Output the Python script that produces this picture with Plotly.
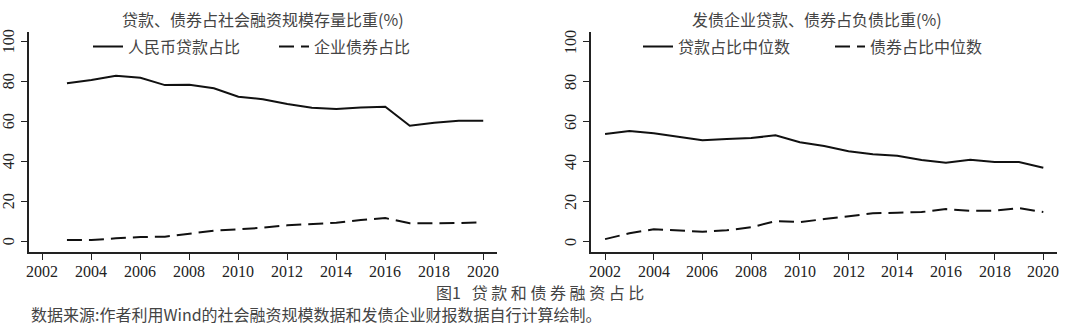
import plotly.graph_objects as go

# Left panel: share of social financing stock (%)
years_left = list(range(2003, 2021))
rmb_loan_share = [79.2, 80.8, 83.0, 82.0, 78.3, 78.5, 76.7, 72.5, 71.2, 68.8,
                  67.0, 66.3, 67.1, 67.5, 58.0, 59.5, 60.5, 60.5]
corp_bond_share = [0.8, 0.8, 1.7, 2.3, 2.5, 4.0, 5.5, 6.2, 7.0, 8.2,
                   8.7, 9.5, 10.8, 11.8, 9.2, 9.2, 9.3, 9.7]

# Right panel: share of liabilities of bond-issuing firms (%)
years_right = list(range(2002, 2021))
loan_median = [53.8, 55.3, 54.2, 52.5, 50.7, 51.3, 51.8, 53.2, 49.7, 47.8,
               45.2, 43.7, 43.0, 40.8, 39.5, 41.0, 39.8, 39.8, 37.0]
bond_median = [1.3, 4.2, 6.2, 5.5, 5.0, 5.7, 7.2, 10.3, 9.8, 11.3,
               12.8, 14.2, 14.5, 14.8, 16.3, 15.5, 15.5, 16.8, 14.8]

x_ticks = list(range(2002, 2021, 2))
y_ticks = [0, 20, 40, 60, 80, 100]

title_left = "贷款、债券占社会融资规模存量比重(%)"
title_right = "发债企业贷款、债券占负债比重(%)"
legend_left = ["人民币贷款占比", "企业债券占比"]
legend_right = ["贷款占比中位数", "债券占比中位数"]
caption = "图1   贷 款 和 债 券 融 资 占 比"
source_note = "数据来源:作者利用Wind的社会融资规模数据和发债企业财报数据自行计算绘制。"

W, H = 1080, 328
CJK = "Noto Sans CJK SC"
SERIF = "Liberation Serif"
LINE_COLOR = "#111111"
TEXT_COLOR = "#444444"
TICK_COLOR = "#222222"
DASH = "15px,7px"

fig = go.Figure()

fig.add_trace(go.Scatter(x=years_left, y=rmb_loan_share, mode="lines",
                         name=legend_left[0], xaxis="x", yaxis="y", legend="legend",
                         line=dict(color=LINE_COLOR, width=2)))
fig.add_trace(go.Scatter(x=years_left, y=corp_bond_share, mode="lines",
                         name=legend_left[1], xaxis="x", yaxis="y", legend="legend",
                         line=dict(color=LINE_COLOR, width=2, dash=DASH)))
fig.add_trace(go.Scatter(x=years_right, y=loan_median, mode="lines",
                         name=legend_right[0], xaxis="x2", yaxis="y2", legend="legend2",
                         line=dict(color=LINE_COLOR, width=2)))
fig.add_trace(go.Scatter(x=years_right, y=bond_median, mode="lines",
                         name=legend_right[1], xaxis="x2", yaxis="y2", legend="legend2",
                         line=dict(color=LINE_COLOR, width=2, dash=DASH)))

y_dom = [1 - 252.3 / H, 1 - 31.7 / H]
left_dom = [29 / W, 496.7 / W]
right_dom = [590.7 / W, 1056.7 / W]


def x_axis(domain, anchor, rng):
    return dict(domain=domain, anchor=anchor, range=rng,
                tickmode="array", tickvals=x_ticks, showticklabels=False,
                ticks="outside", ticklen=6, tickwidth=1.3, tickcolor=TICK_COLOR,
                showline=True, linecolor=TICK_COLOR, linewidth=1.5,
                showgrid=False, zeroline=False)


def y_axis(anchor):
    return dict(domain=y_dom, anchor=anchor, range=[-5.3, 105],
                tickmode="array", tickvals=y_ticks, showticklabels=False,
                ticks="outside", ticklen=6, tickwidth=1.3, tickcolor=TICK_COLOR,
                showline=True, linecolor=TICK_COLOR, linewidth=1.5,
                showgrid=False, zeroline=False)


legend_style = dict(orientation="h", yanchor="middle", xanchor="left",
                    y=1 - 46.5 / H, bgcolor="rgba(0,0,0,0)",
                    entrywidthmode="pixels", tracegroupgap=0,
                    font=dict(family=CJK, size=16, color=TEXT_COLOR))

fig.update_layout(
    width=W, height=H,
    margin=dict(l=0, r=0, t=0, b=0),
    paper_bgcolor="white", plot_bgcolor="white",
    xaxis=x_axis(left_dom, "y", [2001.45, 2020.55]),
    yaxis=y_axis("x"),
    xaxis2=x_axis(right_dom, "y2", [2001.41, 2020.55]),
    yaxis2=y_axis("x2"),
    legend=dict(legend_style, x=88 / W, entrywidth=141),
    legend2=dict(legend_style, x=638 / W, entrywidth=147),
    showlegend=True,
)

# Tick labels: serif numerals, y labels rotated to read bottom-to-top
tick_font = dict(family=SERIF, size=16, color=TICK_COLOR)
for xref, yref, axis_left in (("x", "y", left_dom[0]), ("x2", "y2", right_dom[0])):
    for v in x_ticks:
        fig.add_annotation(text=str(v), x=v, xref=xref, y=1 - 271 / H, yref="paper",
                           xanchor="center", yanchor="middle", showarrow=False,
                           font=tick_font)
    for v in y_ticks:
        fig.add_annotation(text=str(v), x=axis_left - 20.5 / W, xref="paper",
                           y=v, yref=yref, xanchor="center", yanchor="middle",
                           textangle=-90, showarrow=False, font=tick_font)

annotations = [
    dict(text=title_left, x=(left_dom[0] + left_dom[1]) / 2, y=1 - 18.5 / H),
    dict(text=title_right, x=(right_dom[0] + right_dom[1]) / 2 - 7 / W, y=1 - 18.5 / H),
    dict(text=caption, x=540 / W, y=1 - 291.5 / H),
]
for a in annotations:
    fig.add_annotation(xref="paper", yref="paper", xanchor="center", yanchor="middle",
                       showarrow=False, font=dict(family=CJK, size=16, color=TEXT_COLOR),
                       **a)
fig.add_annotation(text=source_note, xref="paper", yref="paper", x=29 / W, y=1 - 313.5 / H,
                   xanchor="left", yanchor="middle", showarrow=False,
                   font=dict(family=CJK, size=16, color=TEXT_COLOR))

fig.write_html("out.html")
